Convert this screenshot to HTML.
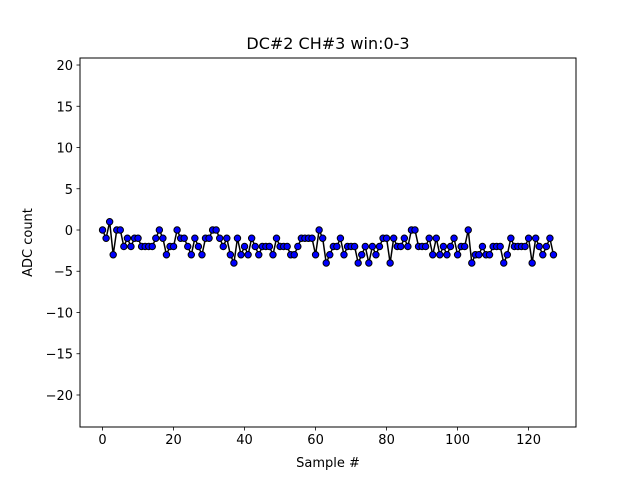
<!DOCTYPE html>
<html><head><meta charset="utf-8"><style>
body{margin:0;background:#fff}
svg text{font-family:"DejaVu Sans","Liberation Sans",sans-serif;fill:#000}
</style></head><body>
<svg id="chart" width="640" height="480" xmlns="http://www.w3.org/2000/svg">
<rect width="640" height="480" fill="#fff"/>
<g id="plot"></g>
</svg>
<script>
const samples = [0,-1,1,-3,0,0,-2,-1,-2,-1,-1,-2,-2,-2,-2,-1,0,-1,-3,-2,-2,0,-1,-1,-2,-3,-1,-2,-3,-1,-1,0,0,-1,-2,-1,-3,-4,-1,-3,-2,-3,-1,-2,-3,-2,-2,-2,-3,-1,-2,-2,-2,-3,-3,-2,-1,-1,-1,-1,-3,0,-1,-4,-3,-2,-2,-1,-3,-2,-2,-2,-4,-3,-2,-4,-2,-3,-2,-1,-1,-4,-1,-2,-2,-1,-2,0,0,-2,-2,-2,-1,-3,-1,-3,-2,-3,-2,-1,-3,-2,-2,0,-4,-3,-3,-2,-3,-3,-2,-2,-2,-4,-3,-1,-2,-2,-2,-2,-1,-4,-1,-2,-3,-2,-1,-3];
const xTicks = [0,20,40,60,80,100,120];
const yTicks = [-20,-15,-10,-5,0,5,10,15,20];
const xMin=-6.35, xMax=133.35, yMin=-23.88, yMax=20.85;
const L=80,R=576,T=58,B=427;
const sx=v=>L+(v-xMin)/(xMax-xMin)*(R-L);
const sy=v=>B-(v-yMin)/(yMax-yMin)*(B-T);
const NS="http://www.w3.org/2000/svg";
const g=document.getElementById('plot');
function mk(tag,attrs,parent){const e=document.createElementNS(NS,tag);for(const k in attrs)e.setAttribute(k,attrs[k]);(parent||g).appendChild(e);return e;}
let d=samples.map((v,i)=>(i?'L':'M')+sx(i).toFixed(2)+','+sy(v).toFixed(2)).join(' ');
const line=mk('path',{d:d,fill:'none',stroke:'#000','stroke-width':1.5});


samples.forEach((v,i)=>{
  const c=mk('circle',{cx:sx(i),cy:sy(v),r:3.2,fill:'#0000ff',stroke:'#000','stroke-width':1});
  
  
});
const fr=mk('rect',{x:L,y:T,width:R-L,height:B-T,fill:'none',stroke:'#000','stroke-width':1});


xTicks.forEach(t=>{
  const x=sx(t);
  mk('line',{x1:x,x2:x,y1:B,y2:B+3.5,stroke:'#000','stroke-width':0.8});
  const tx=mk('text',{x:x,y:B+17,'text-anchor':'middle','font-size':'13px'});
  tx.textContent=String(t);
  
  
});
yTicks.forEach(t=>{
  const y=sy(t);
  mk('line',{x1:L-3.5,x2:L,y1:y,y2:y,stroke:'#000','stroke-width':0.8});
  const tx=mk('text',{x:L-7,y:y+5,'text-anchor':'end','font-size':'13px'});
  tx.textContent=(t<0?'\u2212'+(-t):String(t));
  
  
});
const title=mk('text',{x:(L+R)/2,y:49,'text-anchor':'middle','font-size':'16px'});
title.textContent='DC#2 CH#3 win:0-3';


const xl=mk('text',{x:(L+R)/2,y:467,'text-anchor':'middle','font-size':'13px'});
xl.textContent='Sample #';


const yl=mk('text',{x:0,y:0,'text-anchor':'middle','font-size':'13px',transform:'translate(32,'+((T+B)/2)+') rotate(-90)'});
yl.textContent='ADC count';


</script>
</body></html>
